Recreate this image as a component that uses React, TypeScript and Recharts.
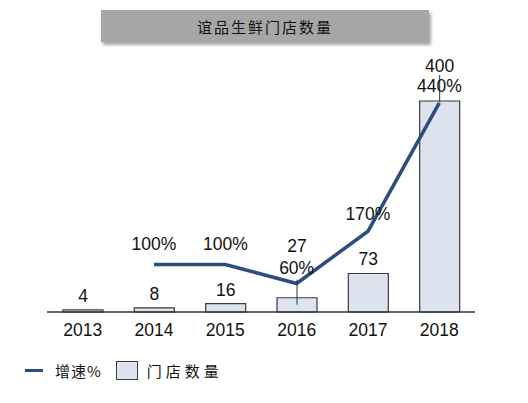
import { ComposedChart, Bar, Line, XAxis, YAxis, LabelList } from 'recharts'

const years = ['2013', '2014', '2015', '2016', '2017', '2018']
const stores = [4, 8, 16, 27, 73, 400]
const growth: (number | null)[] = [null, 100, 100, 60, 170, 440]

const LINE = '#2c4d7d'
const BAR_FILL = '#dde3ee'
const BAR_STROKE = '#3a3a40'
const FONT = '"Liberation Sans", Arial, sans-serif'
const CJK = '"Noto Sans CJK SC", sans-serif'
const FS = 17.5

const data = years.map((y, i) => ({ year: y, stores: stores[i], growth: growth[i] }))

function BarLabel(props: any) {
  const { x, y, width, value, index } = props
  const cx = x + width / 2
  let dy = -8
  if (index === 3) dy = -46
  if (index === 5) dy = -29
  return (
    <g>
      {index === 3 && <line x1={cx} x2={cx} y1={y - 18} y2={y + 7} stroke="#333" strokeWidth={1} />}
      {index === 5 && <line x1={cx} x2={cx} y1={y - 26} y2={y + 1} stroke="#333" strokeWidth={1} />}
      <text x={cx} y={y + dy} textAnchor="middle" fontSize={FS} fontFamily={FONT} fill="#111">
        {value}
      </text>
    </g>
  )
}

function LineLabel(props: any) {
  const { x, y, value, index } = props
  if (value == null) return null
  let dy = -14
  if (index === 3) dy = -9
  if (index === 4) dy = -11
  if (index === 5) dy = -11
  return (
    <text x={x} y={y + dy} textAnchor="middle" fontSize={FS} fontFamily={FONT} fill="#111">
      {value}%
    </text>
  )
}

export default function App() {
  return (
    <div style={{ position: 'absolute', left: 0, top: 0, width: 528, height: 403, background: '#fff' }}>
      <div style={{
        position: 'absolute', left: 101, top: 10, width: 328, height: 32,
        background: '#a6a6a6', boxShadow: '2px 3px 3px rgba(0,0,0,0.35)',
        display: 'flex', alignItems: 'center', justifyContent: 'center',
        fontFamily: CJK, fontSize: 15, color: '#111', letterSpacing: 2,
      }}>
        谊品生鲜门店数量
      </div>
      <ComposedChart
        width={528}
        height={403}
        data={data}
        margin={{ top: 101, right: 53, bottom: 61, left: 47 }}
      >
        <XAxis
          dataKey="year"
          axisLine={{ stroke: '#333', strokeWidth: 1.5 }}
          tickLine={false}
          tick={{ fill: '#111', fontSize: FS, fontFamily: FONT }}
          height={30}
          tickMargin={6}
        />
        <YAxis yAxisId="left" hide domain={[0, 400]} />
        <YAxis yAxisId="right" hide orientation="right" domain={[0, 444]} />
        <Bar
          yAxisId="left"
          dataKey="stores"
          barSize={40}
          fill={BAR_FILL}
          stroke={BAR_STROKE}
          strokeWidth={1.2}
          isAnimationActive={false}
        >
          <LabelList dataKey="stores" content={BarLabel} />
        </Bar>
        <Line
          yAxisId="right"
          dataKey="growth"
          stroke={LINE}
          strokeWidth={3.5}
          dot={false}
          type="linear"
          connectNulls={false}
          isAnimationActive={false}
        >
          <LabelList dataKey="growth" content={LineLabel} />
        </Line>
      </ComposedChart>
      <div style={{
        position: 'absolute', left: 25, top: 360, display: 'flex', alignItems: 'center',
        fontFamily: CJK, fontSize: 15, color: '#111',
      }}>
        <span style={{ display: 'inline-block', width: 18, height: 3.5, background: LINE, marginRight: 12 }} />
        <span style={{ marginRight: 14, letterSpacing: 1 }}>增速%</span>
        <span style={{
          display: 'inline-block', width: 22, height: 19, background: BAR_FILL,
          border: `1.5px solid ${BAR_STROKE}`, marginRight: 9, boxSizing: 'border-box',
        }} />
        <span style={{ letterSpacing: 4 }}>门店数量</span>
      </div>
    </div>
  )
}
